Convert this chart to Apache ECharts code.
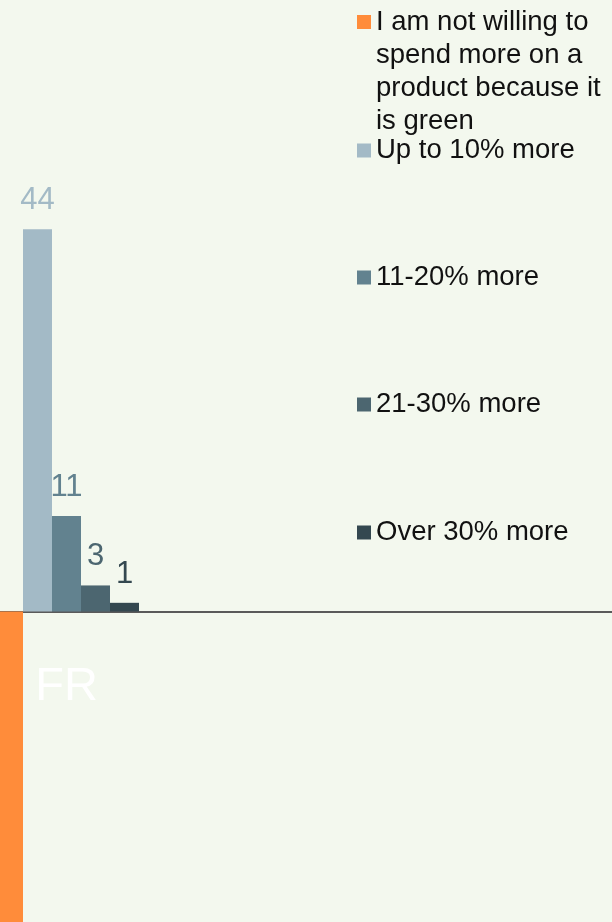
<!DOCTYPE html>
<html>
<head>
<meta charset="utf-8">
<script src="https://cdn.jsdelivr.net/npm/echarts@6/dist/echarts.min.js"></script>
<style>
html,body{margin:0;padding:0;background:#F3F8EE;}
#chart{width:612px;height:922px;}
</style>
</head>
<body>
<div id="chart"></div>
<script>
// Data
const categories = ['FR', '', '', ''];
const seriesNames = [
  'I am not willing to spend more on a product because it is green',
  'Up to 10% more',
  '11-20% more',
  '21-30% more',
  'Over 30% more'
];
const notWilling = [-41];
const upTo10 = [44];
const from11to20 = [11];
const from21to30 = [3];
const over30 = [1];
const legendLabels = [
  '\n\n\nI am not willing to\nspend more on a\nproduct because it\nis green',
  'Up to 10% more',
  '11-20% more',
  '21-30% more',
  'Over 30% more'
];

const colors = ['#FF8C3A', '#A3BAC6', '#62828F', '#4C6670', '#344850'];
const FONT = 'Liberation Sans, Arial, sans-serif';
const seriesData = [notWilling, upTo10, from11to20, from21to30, over30];

const series = seriesNames.map((name, i) => ({
  name: name,
  type: 'bar',
  data: seriesData[i],
  barWidth: 29,
  barGap: '0%',
  itemStyle: { color: colors[i] },
  label: {
    show: i > 0,
    position: 'top',
    distance: 13,
    color: colors[i],
    fontSize: 31,
    fontFamily: FONT
  }
}));

const legendTops = [-93.5, 134, 261, 388, 516];
const legends = seriesNames.map((name, i) => ({
  data: [name],
  orient: 'vertical',
  left: 357,
  top: legendTops[i],
  padding: 0,
  itemWidth: 14,
  itemHeight: 14,
  icon: 'rect',
  selectedMode: false,
  formatter: () => legendLabels[i],
  textStyle: {
    color: '#111',
    fontSize: 27.5,
    fontFamily: FONT,
    lineHeight: 33
  }
}));

const chart = echarts.init(document.getElementById('chart'));
chart.setOption({
  backgroundColor: '#F3F8EE',
  animation: false,
  legend: legends,
  grid: { left: -11.43, right: 0, top: 90.3, bottom: -80.4, containLabel: false, outerBoundsMode: 'none' },
  xAxis: {
    type: 'category',
    data: categories,
    axisLine: { show: true, onZero: true, lineStyle: { color: '#5a5a5a', width: 2 } },
    axisTick: { show: false },
    axisLabel: { color: '#ffffff', fontSize: 47, fontFamily: FONT, margin: -339, interval: 0 },
    splitLine: { show: false }
  },
  yAxis: {
    type: 'value',
    min: -45,
    max: 60,
    show: false,
    splitLine: { show: false }
  },
  series: series
});
</script>
</body>
</html>
